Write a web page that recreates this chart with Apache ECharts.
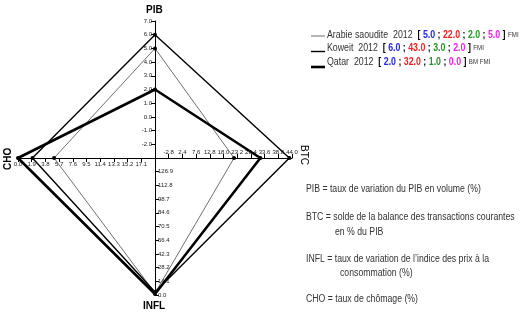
<!DOCTYPE html>
<html>
<head>
<meta charset="utf-8">
<script src="https://cdn.jsdelivr.net/npm/echarts@6/dist/echarts.min.js"></script>
<style>
html,body{margin:0;padding:0;background:#fff}
#main{width:523px;height:314px}
</style>
</head>
<body>
<div id="main"></div>
<script>
// données 2012 : [PIB ; BTC ; INFL ; CHO]
var countries = ['Arabie saoudite', 'Koweit', 'Qatar'];
var sources = ['FMI', 'FMI', 'BM FMI'];
var year = '2012';
var pib = [5.0, 6.0, 2.0];
var btc = [22.0, 43.0, 32.0];
var infl = [2.0, 3.0, 1.0];
var cho = [5.0, 2.0, 0.0];

// bornes des axes (centre -> extrémité)
var pibRange = [-3, 7];
var btcRange = [-8, 44];
var inflRange = [141, 0];   // inversé
var choRange = [19, 0];     // inversé

var lineColors = ['#4a4a4a', '#000000', '#000000'];
var lineWidths = [0.8, 1.4, 2.6];

var fmt = function (v) { return (+v).toFixed(1); };
var fmtNeg = function (v) { return Math.abs(v).toFixed(1); };

// ordre anti-horaire depuis le haut : PIB, CHO, INFL, BTC
var indicators = [
    { name: 'PIB', min: pibRange[0], max: pibRange[1], axisLabel: { formatter: fmt } },
    { name: 'CHO', min: -choRange[0], max: -choRange[1], axisLabel: { formatter: fmtNeg } },
    { name: 'INFL', min: -inflRange[0], max: -inflRange[1], axisLabel: { formatter: fmtNeg } },
    { name: 'BTC', min: btcRange[0], max: btcRange[1], axisLabel: { formatter: fmt } }
];

var chart = echarts.init(document.getElementById('main'));

var radarBase = {
    center: [155, 158],
    radius: 137,
    startAngle: 90,
    splitNumber: 10,
    shape: 'polygon',
    splitLine: { show: false },
    splitArea: { show: false },
    axisName: { show: false }
};

var font = 'Liberation Sans';

function tok(color) {
    return { fill: color, fontWeight: 'bold', fontSize: 10, fontFamily: font };
}

// texte de légende (couleurs par valeur), compressé comme l'original
function legendText(i) {
    return {
        type: 'text', x: 327, y: 35 + i * 13.5, scaleX: 0.88,
        style: {
            text: countries[i] + '  ' + year + '  {k|[} {b|' + pib[i].toFixed(1) + '} {k|;} {r|' +
                btc[i].toFixed(1) + '} {k|;} {g|' + infl[i].toFixed(1) + '} {k|;} {m|' +
                cho[i].toFixed(1) + '} {k|]} {s|' + sources[i] + '}',
            fontSize: 10, fontFamily: font, fill: '#333', verticalAlign: 'middle',
            rich: {
                k: tok('#000'),
                b: tok('#2424ee'),
                r: tok('#ee2222'),
                g: tok('#229922'),
                m: tok('#ee22ee'),
                s: { fill: '#333', fontSize: 7, fontFamily: font }
            }
        }
    };
}

// texte des définitions
function note(x, y, txt) {
    return {
        type: 'text', x: x, y: y, scaleX: 0.87,
        style: { text: txt, font: '10px Liberation Sans', fill: '#333' }
    };
}

var option = {
    backgroundColor: '#fff',
    animation: false,
    textStyle: { fontFamily: font },
    radar: [
        echarts.util.merge({
            indicator: indicators,
            axisLine: { lineStyle: { color: '#000', width: 1 } },
            axisTick: { show: true, length: 4, lineStyle: { color: '#000' } },
            axisLabel: {
                show: true, fontSize: 6, color: '#222', margin: 3,
                showMinLabel: false, formatter: fmt
            }
        }, radarBase),
        echarts.util.merge({
            indicator: indicators.map(function (d) { return { name: d.name, min: d.min, max: d.max }; }),
            axisLine: { show: false },
            axisTick: { show: true, inside: true, length: 4, lineStyle: { color: '#000' } },
            axisLabel: { show: false }
        }, radarBase)
    ],
    legend: {
        orient: 'vertical',
        left: 306,
        top: 25,
        itemWidth: 14,
        itemHeight: 10,
        itemGap: 3.5,
        data: countries.map(function (c, i) {
            return {
                name: c,
                icon: 'path://M0 0h14v' + lineWidths[i] + 'h-14z',
                itemStyle: { color: lineColors[i] }
            };
        }),
        formatter: function () { return ' '; }
    },
    graphic: [
        { type: 'text', left: 146, top: 5, style: { text: 'PIB', font: 'bold 10px Liberation Sans', fill: '#000' } },
        { type: 'text', left: 143, top: 301, style: { text: 'INFL', font: 'bold 10px Liberation Sans', fill: '#000' } },
        { type: 'text', x: 3, y: 170, rotation: Math.PI / 2, style: { text: 'CHO', font: 'bold 10px Liberation Sans', fill: '#000' } },
        { type: 'text', x: 309, y: 145, rotation: -Math.PI / 2, style: { text: 'BTC', font: '10px Liberation Sans', fill: '#000' } },
        legendText(0),
        legendText(1),
        legendText(2),
        note(306, 184, 'PIB = taux de variation du PIB en volume (%)'),
        note(306, 212, 'BTC = solde de la balance des transactions courantes'),
        note(335, 227, 'en % du PIB'),
        note(306, 254, 'INFL = taux de variation de l\u2019indice des prix à la'),
        note(340, 268, 'consommation (%)'),
        note(306, 294, 'CHO = taux de chômage (%)')
    ],
    series: countries.map(function (c, i) {
        return {
            type: 'radar',
            name: c,
            radarIndex: 0,
            symbol: 'circle',
            symbolSize: 4,
            itemStyle: { color: '#000' },
            lineStyle: { width: lineWidths[i], color: lineColors[i] },
            z: 3 + i,
            data: [{ name: c, value: [pib[i], -cho[i], -infl[i], btc[i]] }]
        };
    })
};

chart.setOption(option);
</script>
</body>
</html>
